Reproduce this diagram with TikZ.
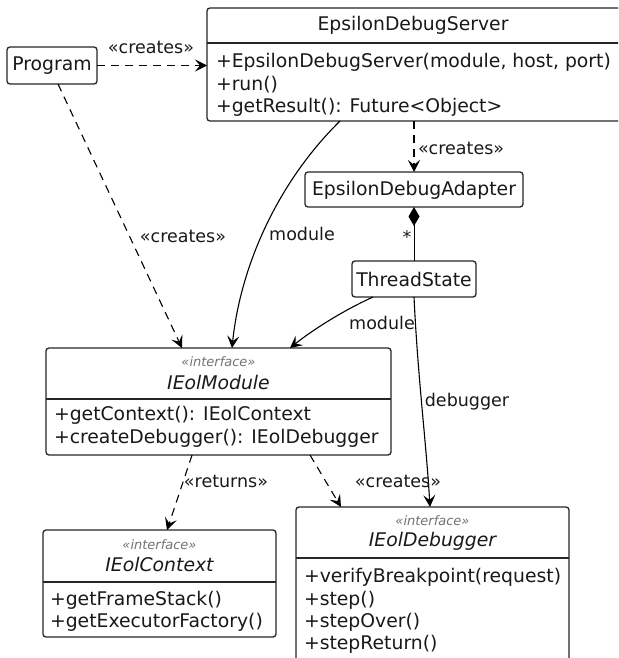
\documentclass[tikz,border=0pt]{standalone}
\usepackage{fontspec}
\setmainfont{DejaVu Sans}
\usetikzlibrary{arrows.meta,calc}
\begin{document}
\begin{tikzpicture}[x=1pt,y=1pt,
  every node/.style={inner sep=0pt,outer sep=0pt},
  box/.style={draw=black!85,line width=1.3pt,rounded corners=3pt},
  cls/.style={box,fill=white},
  txt/.style={font=\fontsize{18.8}{22}\selectfont,text=black!90},
  mem/.style={txt,anchor=west},
  ttl/.style={font=\fontsize{18.8}{22}\selectfont\itshape,text=black!90},
  stereo/.style={font=\fontsize{13}{15}\selectfont\itshape,text=black!55},
  lbl/.style={font=\fontsize{17.5}{21}\selectfont,text=black!90},
  sep/.style={draw=black!85,line width=1.3pt},
  arr/.style={-{Stealth[length=12pt,width=12pt,inset=5pt]},line width=1.1pt},
  dep/.style={arr,dash pattern=on 8pt off 6pt},
]
\useasboundingbox (0,0) rectangle (618,-658);
\clip (0,0) rectangle (618,-658);

% Program
\node[cls,minimum width=90,minimum height=37] (prog) at (52,-65.5) {};
\node[txt] (progt) at (52,-66) {Program};

% EpsilonDebugServer
\node[cls,minimum width=414,minimum height=113] (srv) at (414,-64.5) {};
\node[txt] (srvt) at (413,-25) {EpsilonDebugServer};
\draw[sep] (207,-43) -- (621,-43);
\node[mem] (srvm1) at (216,-62) {+EpsilonDebugServer(module, host, port)};
\node[mem] (srvm2) at (216,-85) {+run()};
\node[mem] (srvm3) at (216,-107) {+getResult(): Future<Object>};

% EpsilonDebugAdapter
\node[cls,minimum width=218,minimum height=35] (ada) at (414,-189.5) {};
\node[txt] (adat) at (414,-190) {EpsilonDebugAdapter};

% ThreadState
\node[cls,minimum width=124,minimum height=36] (ts) at (414,-279) {};
\node[txt] (tst) at (414,-279.5) {ThreadState};

% IEolModule
\node[cls,minimum width=345,minimum height=107] (mod) at (218.5,-401.5) {};
\node[stereo] (mods) at (218.5,-362) {«interface»};
\node[ttl] (modt) at (218.5,-382) {IEolModule};
\draw[sep] (46,-399) -- (391,-399);
\node[mem] (modm1) at (54,-415) {+getContext(): IEolContext};
\node[mem] (modm2) at (54,-438) {+createDebugger(): IEolDebugger};

% IEolContext
\node[cls,minimum width=233,minimum height=107] (ctx) at (159.5,-583.5) {};
\node[stereo] (ctxs) at (159.5,-545) {«interface»};
\node[ttl] (ctxt) at (159.5,-564) {IEolContext};
\draw[sep] (43,-582) -- (276,-582);
\node[mem] (ctxm1) at (50,-600) {+getFrameStack()};
\node[mem] (ctxm2) at (50,-622) {+getExecutorFactory()};

% IEolDebugger
\node[cls,minimum width=273,minimum height=170] (dbg) at (432.5,-592) {};
\node[stereo] (dbgs) at (432.5,-521) {«interface»};
\node[ttl] (dbgt) at (432.5,-541) {IEolDebugger};
\draw[sep] (296,-558) -- (569,-558);
\node[mem] (dbgm1) at (304,-577) {+verifyBreakpoint(request)};
\node[mem] (dbgm2) at (304,-600) {+step()};
\node[mem] (dbgm3) at (304,-622) {+stepOver()};
\node[mem] (dbgm4) at (304,-644) {+stepReturn()};

% connectors
\draw[dep] (prog.east) -- (prog.east -| srv.west);
\node[lbl] (l1) at (151,-47) {«creates»};
\draw[dep] ([xshift=6pt]prog.south) -- ([xshift=136pt]mod.north west);
\node[lbl] (l2) at (183,-236) {«creates»};
\draw[arr] ([xshift=133pt]srv.south west) .. controls (275,-185) and (240,-270) .. ([xshift=186pt]mod.north west);
\node[lbl] (l3) at (302,-234) {module};
\draw[dep] (srv.south -| ada.north) -- (ada.north);
\node[lbl,anchor=west] (l4) at (418,-148) {«creates»};
\draw[{Diamond[length=19pt,width=11pt]}-,line width=1pt] (ada.south) -- (ts.north);
\node[lbl] (l5) at (407,-237) {*};
\draw[arr] ([xshift=21pt]ts.south west) .. controls (340,-312) and (310,-332) .. ([xshift=244pt]mod.north west);
\node[lbl] (l6) at (382,-323) {module};
\draw[arr] (ts.south) .. controls (418,-380) and (426,-440) .. ([xshift=134pt]dbg.north west);
\node[lbl] (l7) at (467,-402) {debugger};
\draw[dep] ([xshift=146pt]mod.south west) -- ([xshift=124pt]ctx.north west);
\node[lbl] (l8) at (226,-481) {«returns»};
\draw[dep] ([xshift=264pt]mod.south west) -- ([xshift=45pt]dbg.north west);
\node[lbl] (l9) at (398,-481) {«creates»};
\end{tikzpicture}
\end{document}
